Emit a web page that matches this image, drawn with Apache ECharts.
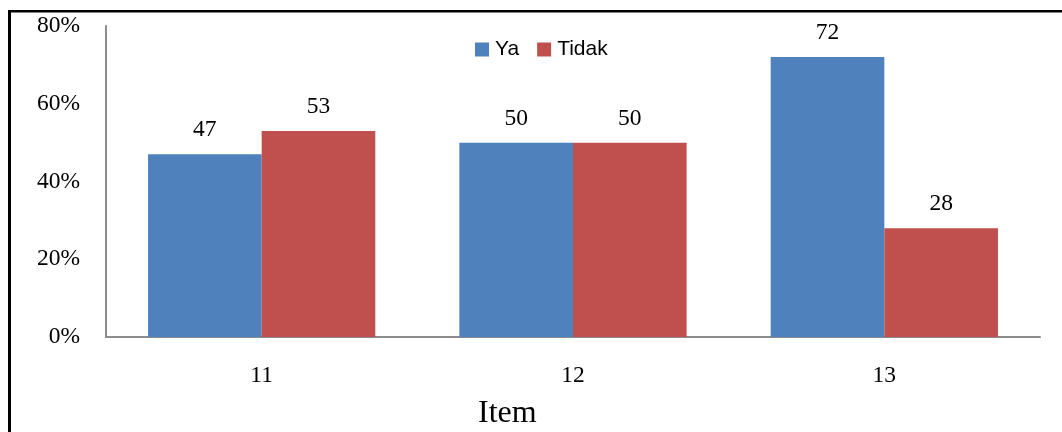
<!DOCTYPE html>
<html>
<head>
<meta charset="utf-8">
<script src="https://cdn.jsdelivr.net/npm/echarts@6/dist/echarts.min.js"></script>
<style>
  html, body { margin: 0; padding: 0; background: #fff; }
  #chart { width: 1062px; height: 432px; }
</style>
</head>
<body>
<div id="chart"></div>
<script>
// Item numbers along the x axis
const categories = ['11', '12', '13'];
// Percent answering "Ya" / "Tidak" per item
const yaValues = [47, 50, 72];
const tidakValues = [53, 50, 28];
// Value-axis tick values (percent)
const yTicks = [0, 20, 40, 60, 80];

const serif = '"Liberation Serif", "Times New Roman", serif';
const sans = '"Liberation Sans", Arial, sans-serif';

const chart = echarts.init(document.getElementById('chart'), null, { renderer: 'canvas' });

chart.setOption({
  animation: false,
  backgroundColor: '#ffffff',
  grid: { left: 106, right: 22, top: 26, bottom: 95, containLabel: false },
  legend: {
    left: 470, top: 34,
    itemWidth: 14, itemHeight: 14, itemGap: 18,
    icon: 'rect',
    textStyle: { fontFamily: sans, fontSize: 21, color: '#000', padding: [0, 0, 0, 1] },
    data: ['Ya', 'Tidak']
  },
  xAxis: {
    type: 'category',
    data: categories,
    axisLine: { show: true, lineStyle: { color: '#8c8c8c', width: 2 } },
    axisTick: { show: false },
    axisLabel: { fontFamily: serif, fontSize: 23.5, color: '#000', margin: 27 },
    splitLine: { show: false }
  },
  yAxis: {
    type: 'value',
    min: yTicks[0], max: yTicks[yTicks.length - 1], interval: 20,
    axisLine: { show: true, lineStyle: { color: '#8c8c8c', width: 2 } },
    axisTick: { show: false },
    splitLine: { show: false },
    axisLabel: { fontFamily: serif, fontSize: 23.5, color: '#000', margin: 26, formatter: v => v + '%' }
  },
  series: [
    {
      name: 'Ya', type: 'bar', data: yaValues,
      barGap: '0%', barCategoryGap: '27%',
      itemStyle: { color: '#4F81BD' },
      label: { show: true, position: 'top', distance: 12, fontFamily: serif, fontSize: 23.5, color: '#000' }
    },
    {
      name: 'Tidak', type: 'bar', data: tidakValues,
      barGap: '0%', barCategoryGap: '27%',
      itemStyle: { color: '#C0504D' },
      label: { show: true, position: 'top', distance: 12, fontFamily: serif, fontSize: 23.5, color: '#000' }
    }
  ],
  graphic: [
    // frame lines on the left and top edges
    { type: 'rect', shape: { x: 8, y: 10, width: 3, height: 422 }, style: { fill: '#000' }, silent: true },
    { type: 'rect', shape: { x: 8, y: 10, width: 1054, height: 2.5 }, style: { fill: '#000' }, silent: true },
    // x-axis title
    { type: 'text', left: 478, top: 398, style: { text: 'Item', font: '32px ' + serif, fill: '#000' }, silent: true }
  ]
});
</script>
</body>
</html>
